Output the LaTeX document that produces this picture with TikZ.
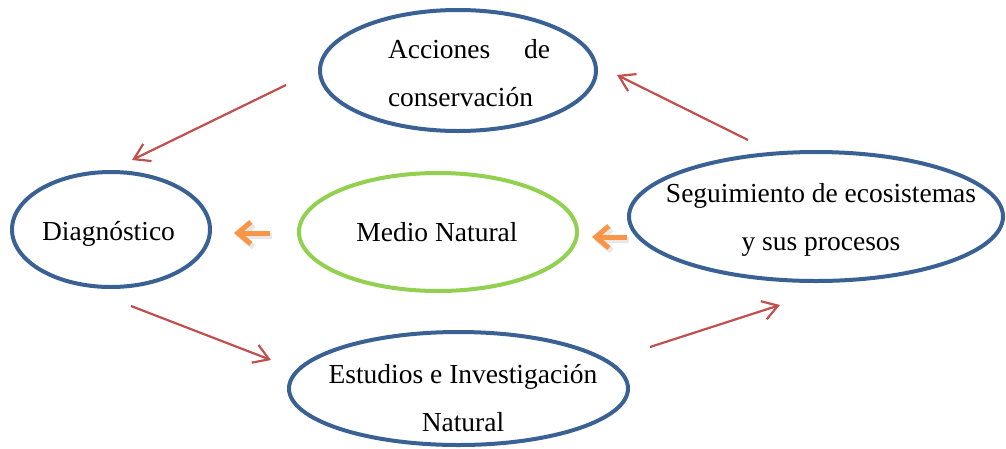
\documentclass[tikz,border=0pt]{standalone}
\usepackage{fontspec}
\setmainfont{Liberation Serif}
\usetikzlibrary{shapes.geometric,arrows.meta}
\definecolor{eblue}{HTML}{3A6194}
\definecolor{egreen}{HTML}{92D050}
\definecolor{ered}{HTML}{C0504D}
\definecolor{eorange}{HTML}{F79646}
\tikzset{
  ell/.style={ellipse, draw=eblue, line width=4pt, inner sep=0pt},
  txt/.style={anchor=base, inner sep=0pt, font=\fontsize{27.5}{48}\selectfont},
  redarr/.style={draw=ered, line width=2.2pt, -{Straight Barb[length=15pt,width=19pt,line width=2.2pt]}},
  orarr/.style={draw=eorange, line width=5pt, -{Straight Barb[length=13pt,width=22pt,line width=5pt]}},
  orshadow/.style={draw=black!50, opacity=0.18, line width=6pt, -{Straight Barb[length=13pt,width=22pt,line width=6pt]}}
}
\begin{document}
\begin{tikzpicture}[x=1pt,y=-1pt]
\useasboundingbox (0,0) rectangle (1006,448);
\node[ell, minimum width=276pt, minimum height=121pt] (acc) at (458,70.5) {};
\node[ell, minimum width=198pt, minimum height=115pt] (diag) at (111,229.5) {};
\node[ell, draw=egreen, minimum width=278pt, minimum height=118pt] (medio) at (438,232) {};
\node[ell, minimum width=374pt, minimum height=129pt] (seg) at (816,216.5) {};
\node[ell, minimum width=339pt, minimum height=113pt] (est) at (458.5,388.5) {};

\node[txt] (acct) at (469,58) {\parbox[t]{162pt}{Acciones\hfill de\\conservación}};
\node[txt] (diagt) at (108.5,240) {Diagnóstico};
\node[txt] (mediot) at (437,241) {Medio Natural};
\node[txt] (segt) at (821,202) {\parbox[t]{360pt}{\centering Seguimiento de ecosistemas\\y sus procesos}};
\node[txt] (estt) at (463,383) {\parbox[t]{330pt}{\centering Estudios e Investigación\\Natural}};

\coordinate (r1s) at (286,85);  \coordinate (r1e) at (132,160);
\coordinate (r2s) at (748,140); \coordinate (r2e) at (617,75);
\coordinate (r3s) at (131,306); \coordinate (r3e) at (271,360);
\coordinate (r4s) at (650,347); \coordinate (r4e) at (780,305);
\draw[redarr] (r1s) -- (r1e);
\draw[redarr] (r2s) -- (r2e);
\draw[redarr] (r3s) -- (r3e);
\draw[redarr] (r4s) -- (r4e);

\coordinate (o1s) at (270,233); \coordinate (o1e) at (234,233);
\coordinate (o2s) at (627,237); \coordinate (o2e) at (592,237);
\draw[orshadow] ([shift={(2,3)}]o1s) -- ([shift={(2,3)}]o1e);
\draw[orshadow] ([shift={(2,3)}]o2s) -- ([shift={(2,3)}]o2e);
\draw[orarr] (o1s) -- (o1e);
\draw[orarr] (o2s) -- (o2e);
\end{tikzpicture}
\end{document}
